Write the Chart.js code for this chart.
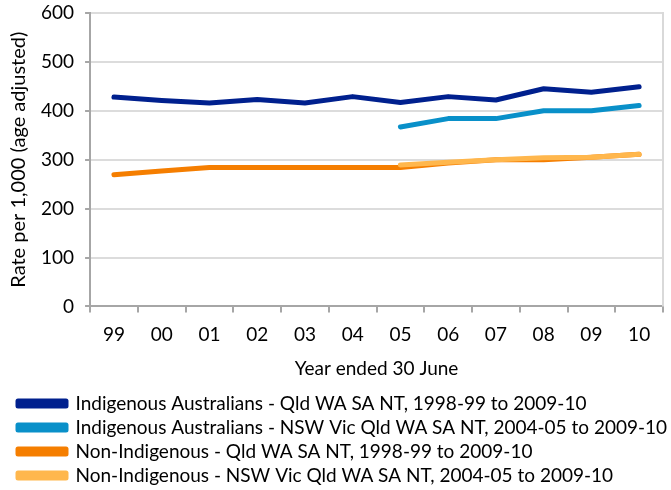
<!DOCTYPE html>
<html>
<head>
<meta charset="utf-8">
<script src="https://cdn.jsdelivr.net/npm/chart.js@4"></script>
<style>
  html, body { margin: 0; padding: 0; background: #fff; }
  #wrap { width: 671px; height: 490px; }
</style>
</head>
<body>
<div id="wrap"><canvas id="chart" width="671" height="490"></canvas></div>
<script>
// years ending 30 June
const years = ['99', '00', '01', '02', '03', '04', '05', '06', '07', '08', '09', '10'];

// rates per 1,000
const indigQld = [428, 421, 416, 423, 416, 429, 417, 429, 422, 445, 438, 449];
const indigNsw = [null, null, null, null, null, null, 367, 384, 384, 400, 400, 411];
const nonIndigQld = [269, 277, 284, 284, 284, 284, 284, 293, 300, 300, 305, 311];
const nonIndigNsw = [null, null, null, null, null, null, 289, 295, 300, 304, 305, 311];

const yTicks = [0, 100, 200, 300, 400, 500, 600];

const FONT = 'Lato, "Open Sans", sans-serif';
const FSIZE = 19;

// right hand border of the plot box
const frameBorder = {
    id: 'frameBorder',
    afterDatasetsDraw(chart) {
        const a = chart.chartArea;
        const c = chart.ctx;
        c.save();
        c.strokeStyle = '#d9d9d9';
        c.lineWidth = 2;
        c.beginPath();
        c.moveTo(a.right, a.top - 1);
        c.lineTo(a.right, a.bottom);
        c.stroke();
        c.restore();
    }
};

const ctx = document.getElementById('chart').getContext('2d');
new Chart(ctx, {
    type: 'line',
    data: {
        labels: years,
        datasets: [
            { label: 'Indigenous Australians - Qld WA SA NT, 1998-99 to 2009-10', data: indigQld, borderColor: '#00208e', backgroundColor: '#00208e', order: 0 },
            { label: 'Indigenous Australians - NSW Vic Qld WA SA NT, 2004-05 to 2009-10', data: indigNsw, borderColor: '#0990c9', backgroundColor: '#0990c9', order: 1 },
            { label: 'Non-Indigenous - Qld WA SA NT, 1998-99 to 2009-10', data: nonIndigQld, borderColor: '#f57e00', backgroundColor: '#f57e00', order: 3 },
            { label: 'Non-Indigenous - NSW Vic Qld WA SA NT, 2004-05 to 2009-10', data: nonIndigNsw, borderColor: '#ffb74d', backgroundColor: '#ffb74d', order: 2 }
        ]
    },
    options: {
        responsive: false,
        animation: false,
        devicePixelRatio: 1,
        layout: { padding: { left: 13, right: 0, top: 13, bottom: -5 } },
        elements: {
            line: { borderWidth: 5, tension: 0, borderCapStyle: 'round', borderJoinStyle: 'round' },
            point: { radius: 0, hoverRadius: 0 }
        },
        scales: {
            x: {
                offset: true,
                afterFit(scale) { scale.paddingRight = 8; },
                grid: { offset: true, drawOnChartArea: false, color: '#a6a6a6', lineWidth: 2, tickLength: 6 },
                border: { color: '#a6a6a6', width: 2 },
                ticks: { color: '#000', font: { family: FONT, size: FSIZE }, padding: 11, maxRotation: 0 },
                title: { display: true, text: 'Year ended 30 June', color: '#000', font: { family: FONT, size: 19 }, padding: { top: 0, bottom: 9 } }
            },
            y: {
                min: 0,
                max: 600,
                afterBuildTicks(axis) { axis.ticks = yTicks.map(v => ({ value: v })); },
                afterFit(scale) { scale.paddingTop = 0; scale.paddingBottom = 0; },
                grid: { color: '#dcdcdc', lineWidth: 2, tickLength: 5, tickColor: '#a6a6a6' },
                border: { color: '#a6a6a6', width: 2 },
                ticks: { color: '#000', font: { family: FONT, size: FSIZE }, padding: 11 },
                title: { display: true, text: 'Rate per 1,000 (age adjusted)', color: '#000', font: { family: FONT, size: 20 }, padding: { top: -6, bottom: -1 } }
            }
        },
        plugins: {
            legend: {
                position: 'bottom',
                align: 'start',
                labels: {
                    color: '#000',
                    font: { family: FONT, size: FSIZE },
                    boxWidth: 48,
                    boxHeight: 5,
                    padding: 5,
                    sort: (a, b) => a.datasetIndex - b.datasetIndex
                }
            },
            tooltip: { enabled: false }
        }
    },
    plugins: [frameBorder]
});
</script>
</body>
</html>
